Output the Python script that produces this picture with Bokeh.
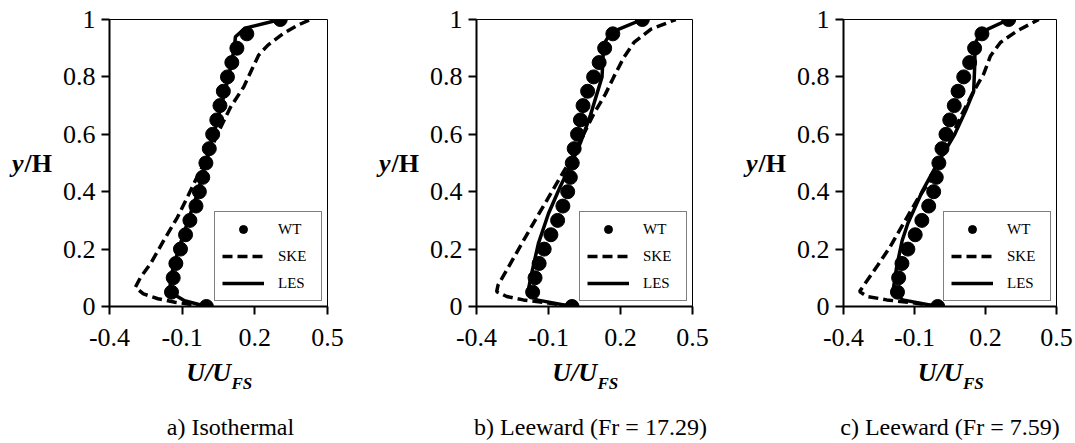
from bokeh.plotting import figure
from bokeh.layouts import row
from bokeh.models import Range1d, FixedTicker, Legend, LinearAxis
from bokeh.embed import file_html
from bokeh.resources import INLINE

# ---------------- data ----------------
x_ticks = [-0.4, -0.1, 0.2, 0.5]
x_tick_labels = ["-0.4", "-0.1", "0.2", "0.5"]
y_ticks = [0.0, 0.2, 0.4, 0.6, 0.8, 1.0]
y_tick_labels = ["0", "0.2", "0.4", "0.6", "0.8", "1"]

captions = ["a) Isothermal", "b) Leeward (Fr = 17.29)", "c) Leeward (Fr = 7.59)"]

y_wt = [0.0, 0.05, 0.1, 0.15, 0.2, 0.25, 0.3, 0.35, 0.4, 0.45, 0.5,
        0.55, 0.6, 0.65, 0.7, 0.75, 0.8, 0.85, 0.9, 0.95, 1.0]

# a) Isothermal
wt_a = [0.0, -0.144, -0.137, -0.126, -0.107, -0.086, -0.068, -0.043, -0.029, -0.015, -0.002,
        0.012, 0.026, 0.043, 0.056, 0.070, 0.087, 0.105, 0.126, 0.167, 0.305]
les_a_y = [0.0, 0.02, 0.04, 0.06, 0.1, 0.2, 0.3, 0.4, 0.5, 0.6, 0.7, 0.8, 0.9, 0.94, 0.97, 1.0]
les_a_u = [0.0, -0.09, -0.13, -0.15, -0.148, -0.115, -0.075, -0.035, -0.003, 0.03, 0.062,
           0.092, 0.115, 0.12, 0.16, 0.305]
ske_a_y = [0.0, 0.015, 0.027, 0.044, 0.067, 0.1, 0.15, 0.23, 0.31, 0.38, 0.44, 0.52, 0.6,
           0.695, 0.765, 0.83, 0.876, 0.91, 0.95, 0.98, 1.0]
ske_a_u = [0.0, -0.13, -0.2, -0.26, -0.293, -0.273, -0.23, -0.176, -0.12, -0.079, -0.045,
           0.004, 0.045, 0.1, 0.154, 0.19, 0.216, 0.253, 0.315, 0.377, 0.43]

# b) Leeward Fr = 17.29
wt_b = [-0.002, -0.166, -0.156, -0.139, -0.118, -0.09, -0.062, -0.04, -0.02, -0.009, -0.001,
        0.007, 0.021, 0.033, 0.044, 0.063, 0.088, 0.111, 0.134, 0.168, 0.291]
les_b_y = [0.0, 0.023, 0.058, 0.116, 0.22, 0.324, 0.42, 0.49, 0.57, 0.665, 0.75, 0.8, 0.914,
           0.955, 1.0]
les_b_u = [-0.002, -0.149, -0.184, -0.17, -0.142, -0.1, -0.05, -0.009, 0.033, 0.074, 0.105,
           0.123, 0.13, 0.161, 0.291]
ske_b_y = [0.0, 0.012, 0.023, 0.035, 0.052, 0.075, 0.127, 0.208, 0.29, 0.37, 0.45, 0.53, 0.6,
           0.67, 0.74, 0.8, 0.868, 0.92, 0.966, 1.0]
ske_b_u = [-0.002, -0.1, -0.205, -0.274, -0.316, -0.31, -0.274, -0.219, -0.163, -0.107,
           -0.051, 0.005, 0.046, 0.088, 0.137, 0.172, 0.214, 0.256, 0.326, 0.43]

# c) Leeward Fr = 7.59
wt_c = [-0.002, -0.172, -0.167, -0.153, -0.128, -0.097, -0.069, -0.04, -0.019, -0.008, 0.003,
        0.016, 0.033, 0.049, 0.068, 0.084, 0.108, 0.133, 0.154, 0.185, 0.298]
les_c_y = [0.0, 0.023, 0.058, 0.14, 0.23, 0.29, 0.4, 0.5, 0.6, 0.68, 0.75, 0.85, 0.913,
           0.954, 1.0]
les_c_u = [-0.002, -0.15, -0.19, -0.175, -0.152, -0.128, -0.068, -0.002, 0.07, 0.115, 0.15,
           0.155, 0.155, 0.178, 0.298]
ske_c_y = [0.0, 0.012, 0.023, 0.035, 0.052, 0.081, 0.139, 0.208, 0.29, 0.37, 0.44, 0.51, 0.58,
           0.66, 0.75, 0.81, 0.873, 0.92, 0.96, 1.0]
ske_c_u = [-0.002, -0.1, -0.217, -0.3, -0.332, -0.308, -0.259, -0.203, -0.146, -0.09, -0.033,
           0.009, 0.051, 0.094, 0.15, 0.192, 0.221, 0.263, 0.333, 0.425]

FONT = "Liberation Serif"
NB = "\u00a0"


def blank_axis(label, size, style, standoff):
    """An axis without line/ticks that only carries a text label."""
    return LinearAxis(ticker=FixedTicker(ticks=[]), axis_label=label,
                      axis_label_text_font=FONT, axis_label_text_font_size=size,
                      axis_label_text_font_style=style, axis_label_text_color="black",
                      axis_label_standoff=standoff,
                      axis_line_color=None, major_tick_line_color=None,
                      minor_tick_line_color=None, major_tick_out=0, major_tick_in=0,
                      minor_tick_out=0, minor_tick_in=0, major_label_standoff=0)


def make_panel(wt_u, les_y, les_u, ske_y, ske_u, caption, width, border_left, frame_w):
    p = figure(width=width, height=443,
               x_range=Range1d(-0.4, 0.5), y_range=Range1d(0, 1),
               output_backend="svg", toolbar_location=None,
               min_border_left=border_left,
               min_border_right=width - border_left - frame_w,
               min_border_top=19, min_border_bottom=137)
    p.grid.visible = False
    p.outline_line_color = "black"
    p.outline_line_width = 1
    p.background_fill_color = "white"
    p.border_fill_color = "white"

    ske = p.line(ske_u, ske_y, line_color="black", line_width=3.5, line_dash="10 5")
    les = p.line(les_u, les_y, line_color="black", line_width=3.5)
    wt = p.scatter(wt_u, y_wt, size=14, color="black")

    for ax, ticks, labels, standoff in ((p.xaxis[0], x_ticks, x_tick_labels, 14),
                                        (p.yaxis[0], y_ticks, y_tick_labels, 6)):
        ax.ticker = FixedTicker(ticks=ticks)
        ax.major_label_overrides = {t: l for t, l in zip(ticks, labels)}
        ax.minor_tick_line_color = None
        ax.major_tick_in = 0
        ax.major_tick_out = 8
        ax.axis_line_width = 2
        ax.major_tick_line_width = 2
        ax.axis_line_color = "black"
        ax.major_tick_line_color = "black"
        ax.major_label_text_font = FONT
        ax.major_label_text_font_size = "26px"
        ax.major_label_text_color = "black"
        ax.major_label_standoff = standoff

    # y-axis title: "/H" (bold) on the main axis, "y" (bold italic) on an outer blank axis
    yax = p.yaxis[0]
    yax.axis_label = "/H"
    yax.axis_label_orientation = "horizontal"
    yax.axis_label_text_font = FONT
    yax.axis_label_text_font_size = "26px"
    yax.axis_label_text_font_style = "bold"
    yax.axis_label_text_color = "black"
    yax.axis_label_standoff = 8
    outer = blank_axis("y", "26px", "bold italic", -2)
    outer.axis_label_orientation = "horizontal"
    p.add_layout(outer, "left")

    # x-axis title: U/U with subscript FS, then the caption
    xax = p.xaxis[0]
    xax.axis_label = "U/U" + NB * 3
    xax.axis_label_text_font = FONT
    xax.axis_label_text_font_size = "26px"
    xax.axis_label_text_font_style = "bold italic"
    xax.axis_label_text_color = "black"
    xax.axis_label_standoff = 9
    p.add_layout(blank_axis(NB * 11 + "FS", "17px", "bold italic", -16), "below")
    p.add_layout(blank_axis(caption, "24px", "normal", 18), "below")

    legend = Legend(items=[("WT", [wt]), ("SKE", [ske]), ("LES", [les])],
                    location="bottom_right", margin=5, padding=7, spacing=7,
                    glyph_width=42, glyph_height=20, label_height=20,
                    label_width=36, label_standoff=14,
                    label_text_font=FONT, label_text_font_size="15px",
                    label_text_color="black",
                    border_line_color="black", border_line_width=1.5,
                    background_fill_color="white", background_fill_alpha=1.0)
    p.add_layout(legend)
    return p


p1 = make_panel(wt_a, les_a_y, les_a_u, ske_a_y, ske_a_u, NB * 4 + captions[0], 375, 109, 218)
p2 = make_panel(wt_b, les_b_y, les_b_u, ske_b_y, ske_b_u, NB * 2 + captions[1], 367, 101, 216)
p3 = make_panel(wt_c, les_c_y, les_c_u, ske_c_y, ske_c_u, captions[2], 332, 101, 213)

layout = row(p1, p2, p3)
open("out.html", "w").write(file_html(layout, INLINE))
